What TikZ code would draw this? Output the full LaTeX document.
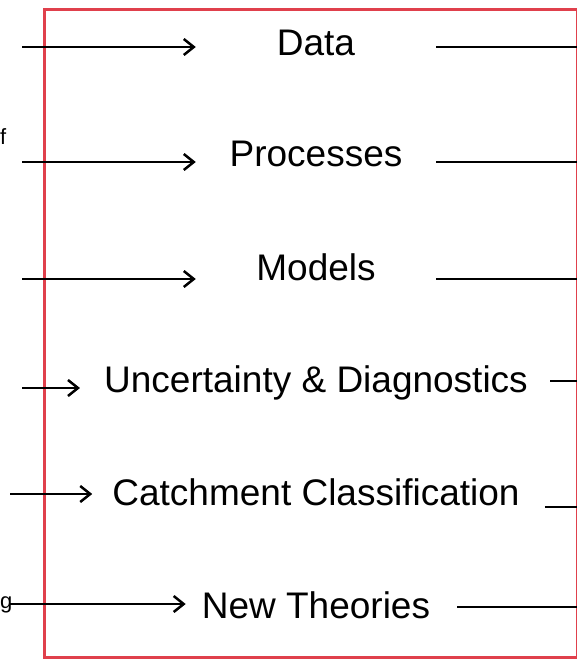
\documentclass[tikz,border=0pt]{standalone}
\usepackage{fontspec}
\setmainfont{Liberation Sans}
\usetikzlibrary{arrows.meta}
\definecolor{framered}{HTML}{E0404C}

\begin{document}
\begin{tikzpicture}[x=1pt, y=-1pt,
  stage/.style={anchor=base, font=\fontsize{37}{42}\selectfont, minimum width=240pt, inner xsep=20pt},
  frag/.style={anchor=base west, inner sep=0pt, font=\fontsize{22}{24}\selectfont},
  feed/.style={line width=2.5pt, -{Straight Barb[length=10pt, width=16pt, line width=2.5pt]}},
  link/.style={line width=2.5pt}]

  \useasboundingbox (0,0) rectangle (577,660);

  % Frame
  \draw[line width=3pt, color=framered] (44,10) rectangle (577,657);

  % Cut-off text at the left edge
  \node[frag] (fragf) at (0,145) {f};
  \node[frag] (fragg) at (0,608) {g};

  % Stages
  \node[stage] (data) at (316,56) {Data};
  \node[stage] (proc) at (316,167) {Processes};
  \node[stage] (models) at (316,280) {Models};
  \node[stage, inner xsep=24pt] (unc) at (316,392) {Uncertainty \& Diagnostics};
  \node[stage] (class) at (316,505) {Catchment Classification};
  \node[stage, inner xsep=16pt] (theory) at (316,618) {New Theories};

  % Free ends
  \coordinate (dataIn) at (22,47);
  \coordinate (dataOut) at (577,47);
  \coordinate (procIn) at (22,162);
  \coordinate (procOut) at (577,162);
  \coordinate (modelsIn) at (22,279);
  \coordinate (modelsOut) at (577,279);
  \coordinate (uncIn) at (22,388);
  \coordinate (uncOut) at (577,381);
  \coordinate (classIn) at (10,494);
  \coordinate (classOut) at (577,507);
  \coordinate (theoryIn) at (10,604);
  \coordinate (theoryOut) at (577,607);

  % Inputs
  \draw[feed] (dataIn) -- (dataIn -| data.west);
  \draw[feed] (procIn) -- (procIn -| proc.west);
  \draw[feed] (modelsIn) -- (modelsIn -| models.west);
  \draw[feed] (uncIn) -- (uncIn -| unc.west);
  \draw[feed] (classIn) -- (classIn -| class.west);
  \draw[feed] (theoryIn) -- (theoryIn -| theory.west);

  % Outputs
  \draw[link] ([xshift=-2pt]unc.east |- uncOut) -- (uncOut);
  \draw[link] (data.east |- dataOut) -- (dataOut);
  \draw[link] (proc.east |- procOut) -- (procOut);
  \draw[link] (models.east |- modelsOut) -- (modelsOut);
  \draw[link] ([xshift=5pt]class.east |- classOut) -- (classOut);
  \draw[link] ([xshift=11pt]theory.east |- theoryOut) -- (theoryOut);

\end{tikzpicture}
\end{document}
